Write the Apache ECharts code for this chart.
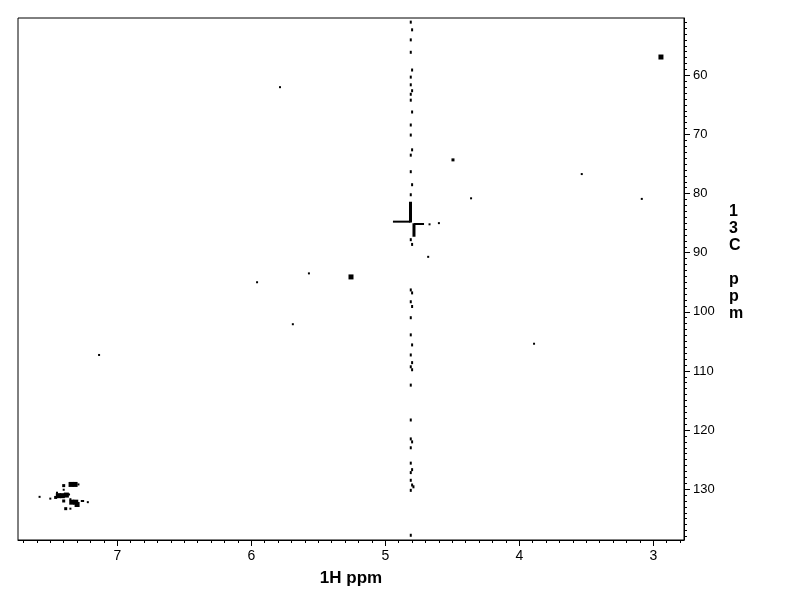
<!DOCTYPE html>
<html>
<head>
<meta charset="utf-8">
<script src="https://cdn.jsdelivr.net/npm/echarts@6/dist/echarts.min.js"></script>
<style>
html,body{margin:0;padding:0;background:#fff;}
#chart{width:792px;height:612px;}
</style>
</head>
<body>
<div id="chart"></div>
<script>
// ---- axis ranges & tick labels ----
const xRange = [2.771, 7.741];           // 1H ppm (reversed)
const yRange = [50.3, 138.6];            // 13C ppm (reversed)
const xTickLabels = [3, 4, 5, 6, 7];
const yTickLabels = [60, 70, 80, 90, 100, 110, 120, 130];
const xAxisName = '1H ppm';
const yAxisName = '1\n3\nC\n\np\np\nm';

// ---- isolated cross peaks: [1H ppm, 13C ppm, intensity level] ----
const isolatedPeaks = [
  [2.943, 56.9, 3],
  [5.786, 62.0, 1],
  [4.495, 74.3, 2],
  [3.534, 76.7, 1],
  [4.360, 80.8, 1],
  [3.086, 80.9, 1],
  [4.680, 90.7, 1],
  [4.670, 85.2, 1],
  [4.600, 85.0, 1],
  [5.957, 95.0, 1],
  [5.570, 93.5, 1],
  [5.256, 94.1, 3],
  [5.690, 102.1, 1],
  [3.890, 105.4, 1],
  [7.136, 107.3, 1]
];

// ---- aromatic cluster: [1H ppm, 13C ppm, intensity level] ----
const aromaticPeaks = [
  [7.400, 129.4, 2], [7.400, 130.1, 1],
  [7.345, 129.2, 3], [7.315, 129.2, 3], [7.290, 129.2, 1],
  [7.440, 131.1, 3], [7.410, 131.1, 3], [7.380, 131.0, 3], [7.460, 131.4, 2], [7.360, 130.9, 1],
  [7.400, 132.0, 2],
  [7.340, 132.2, 3], [7.310, 132.2, 3], [7.300, 132.6, 3], [7.350, 131.7, 1],
  [7.385, 133.3, 2], [7.350, 133.3, 1],
  [7.580, 131.3, 1], [7.500, 131.6, 1], [7.450, 130.6, 1],
  [7.265, 132.0, 1], [7.255, 132.0, 1], [7.220, 132.2, 1]
];

// ---- t1-noise streak at the water/HDO line: [1H ppm, 13C ppm] ----
const streakPoints = [
  [4.81, 51.0], [4.80, 52.3], [4.81, 54.0], [4.81, 56.1], [4.80, 59.1], [4.81, 60.3],
  [4.81, 61.6], [4.80, 62.6], [4.81, 63.2], [4.81, 64.2], [4.80, 66.2], [4.81, 68.4],
  [4.81, 70.1], [4.80, 72.6], [4.81, 73.5], [4.81, 76.3], [4.80, 78.5], [4.81, 80.2],
  [4.81, 87.8], [4.80, 88.6], [4.81, 96.3], [4.80, 96.8], [4.81, 98.3], [4.80, 99.1],
  [4.81, 101.0], [4.81, 103.9], [4.80, 105.6], [4.81, 107.3], [4.80, 108.6], [4.81, 109.3],
  [4.80, 109.8], [4.81, 112.4], [4.81, 118.3], [4.81, 121.5], [4.80, 122.0], [4.81, 123.0],
  [4.81, 125.6], [4.80, 126.7], [4.81, 127.2], [4.81, 128.5], [4.80, 129.3], [4.79, 129.6],
  [4.81, 130.2], [4.81, 137.8]
];

// ---- the strong cross-shaped peak near 4.8 / 85 ppm ----
const crossArmH1 = [[4.943, 84.75], [4.812, 84.75]];
const crossArmV1 = [[4.812, 81.4], [4.812, 84.9]];
const crossArmV2 = [[4.786, 85.0], [4.786, 87.3]];
const crossArmH2 = [[4.786, 85.15], [4.711, 85.15]];

const sizeFor = lvl => lvl >= 3 ? 5 : (lvl === 2 ? 3 : 2);

const chart = echarts.init(document.getElementById('chart'), null, {renderer: 'canvas'});
const font = 'Liberation Sans, Arial, sans-serif';

function armSeries(data, width) {
  return {
    type: 'line', data: data, symbol: 'none', silent: true,
    lineStyle: {color: '#000', width: width, opacity: 1}, z: 3
  };
}

const markStyle = {color: '#000', opacity: 1};

chart.setOption({
  animation: false,
  backgroundColor: '#fff',
  grid: {left: 18, right: 108, top: 18, bottom: 72, show: true, borderColor: '#000', borderWidth: 1, containLabel: false},
  xAxis: {
    type: 'value', inverse: true, min: xRange[0], max: xRange[1],
    splitNumber: 5, minInterval: 1, maxInterval: 1,
    name: xAxisName, nameLocation: 'middle', nameGap: 30,
    nameTextStyle: {color: '#000', fontSize: 17, fontWeight: 'bold', fontFamily: font},
    axisLine: {show: true, onZero: false, lineStyle: {color: '#000', width: 1}},
    axisTick: {show: true, length: 6, lineStyle: {color: '#000'}, customValues: xTickLabels},
    minorTick: {show: true, splitNumber: 10, length: 3, lineStyle: {color: '#000'}},
    axisLabel: {color: '#000', fontSize: 14, fontFamily: font, margin: 9, customValues: xTickLabels},
    splitLine: {show: false}, minorSplitLine: {show: false}
  },
  yAxis: {
    type: 'value', inverse: true, position: 'right', min: yRange[0], max: yRange[1],
    splitNumber: 8, minInterval: 10, maxInterval: 10,
    axisLine: {show: true, onZero: false, lineStyle: {color: '#000', width: 1}},
    axisTick: {show: true, length: 6, lineStyle: {color: '#000'}, customValues: yTickLabels},
    minorTick: {show: true, splitNumber: 10, length: 3, lineStyle: {color: '#000'}},
    axisLabel: {color: '#000', fontSize: 13, fontFamily: font, margin: 9, customValues: yTickLabels},
    splitLine: {show: false}, minorSplitLine: {show: false}
  },
  graphic: [{
    type: 'text', left: 729, top: 203,
    style: {text: yAxisName, fill: '#000', font: 'bold 16px ' + font, lineHeight: 17, align: 'center'}
  }],
  series: [
    {
      type: 'scatter', data: isolatedPeaks, symbol: 'rect',
      symbolSize: d => sizeFor(d[2]), itemStyle: markStyle, silent: true
    },
    {
      type: 'scatter', data: aromaticPeaks, symbol: 'rect',
      symbolSize: d => sizeFor(d[2]), itemStyle: markStyle, silent: true
    },
    {
      type: 'scatter', data: streakPoints, symbol: 'rect',
      symbolSize: [2, 3], itemStyle: markStyle, silent: true
    },
    armSeries(crossArmH1, 2),
    armSeries(crossArmV1, 3),
    armSeries(crossArmV2, 3),
    armSeries(crossArmH2, 2)
  ]
});
</script>
</body>
</html>
